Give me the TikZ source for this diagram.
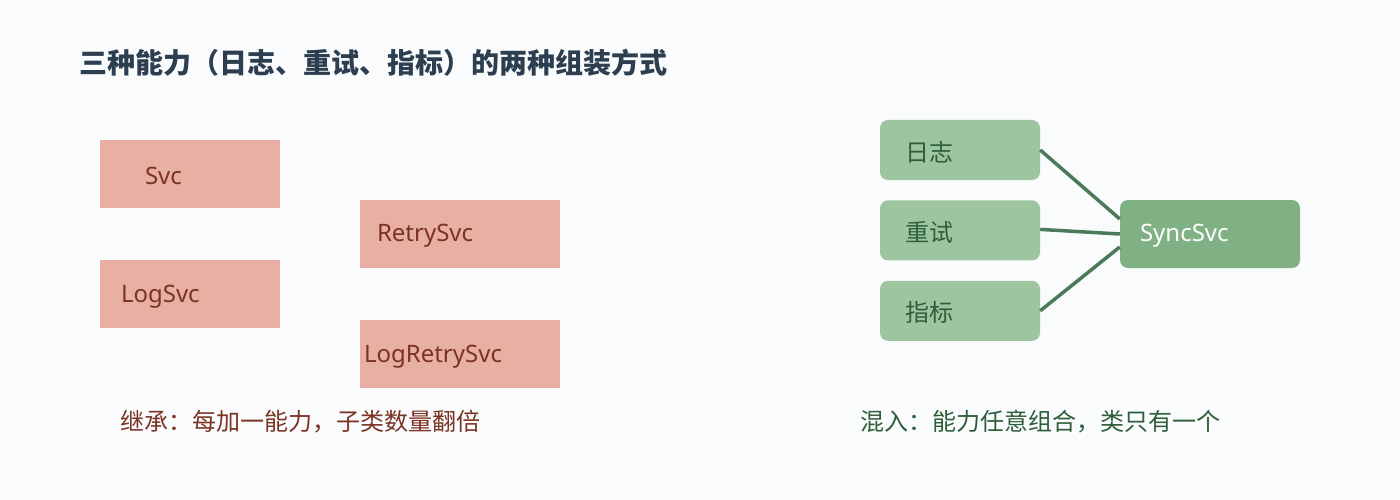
\documentclass[tikz,border=0pt]{standalone}
\usepackage{fontspec}
\setmainfont{Noto Sans}
\newfontfamily\cjk{Noto Sans CJK SC}
\usetikzlibrary{positioning}

\definecolor{bgcol}{HTML}{F9FBFD}
\definecolor{titlecol}{HTML}{2C3E50}
\definecolor{inhfill}{HTML}{E8B0A3}
\definecolor{inhtext}{HTML}{7B3323}
\definecolor{mixfill}{HTML}{9DC5A0}
\definecolor{mixdark}{HTML}{80B184}
\definecolor{mixtext}{HTML}{2E5E3A}
\definecolor{mixline}{HTML}{4A7A5A}

\begin{document}
\begin{tikzpicture}[x=1pt, y=-1pt, node distance=52pt,
  inh node/.style={rectangle, fill=inhfill, minimum height=68pt, inner sep=0pt},
  inh text/.style={font=\fontsize{24}{28}\selectfont, text=inhtext, inner sep=0pt, yshift=-2pt},
  mix node/.style={rectangle, rounded corners=8pt, fill=mixfill, minimum width=160pt, minimum height=60pt, inner sep=0pt},
  mix text/.style={font=\fontsize{24}{28}\selectfont\cjk, text=mixtext, inner sep=0pt, yshift=-2pt},
  caption/.style={font=\fontsize{24}{28}\selectfont\cjk, inner sep=0pt, anchor=west}]

\fill[bgcol] (0,0) rectangle (1400,500);
\useasboundingbox (0,0) rectangle (1400,500);

\node[font=\fontsize{28}{32}\selectfont\cjk\bfseries, text=titlecol, anchor=west, inner sep=0pt] (title) at (79,63) {三种能力（日志、重试、指标）的两种组装方式};

% inheritance
\node[inh node, minimum width=180pt] (svc) at (190,174) {};
\node[inh node, minimum width=180pt] (logsvc) [below=of svc] {};
\node[inh node, minimum width=200pt] (retrysvc) at (460,234) {};
\node[inh node, minimum width=200pt] (logretrysvc) [below=of retrysvc] {};

\node[inh text, right=45pt of svc.west] {Svc};
\node[inh text, right=21pt of logsvc.west] {LogSvc};
\node[inh text, right=17pt of retrysvc.west] {RetrySvc};
\node[inh text, right=4pt of logretrysvc.west] {LogRetrySvc};

\node[caption, text=inhtext] (inhcap) at (120,422) {继承：每加一能力，子类数量翻倍};

% mixin
\node[mix node] (log) at (960,150) {};
\node[mix node] (retry) [below=20pt of log] {};
\node[mix node] (metric) [below=20pt of retry] {};
\node[mix node, fill=mixdark, minimum width=180pt, minimum height=68pt] (sync) at (1210,234) {};

\node[mix text, right=25pt of log.west] {日志};
\node[mix text, right=25pt of retry.west] {重试};
\node[mix text, right=25pt of metric.west] {指标};
\node[inh text, text=white, right=20pt of sync.west] {SyncSvc};

\path[draw=mixline, line width=3.5pt]
    (log.east) edge ([yshift=15pt]sync.west)
    ([yshift=1pt]retry.east) edge ([yshift=0pt]sync.west)
    (metric.east) edge ([yshift=-13pt]sync.west);

\node[caption, text=mixtext] (mixcap) at (860,422) {混入：能力任意组合，类只有一个};

\end{tikzpicture}
\end{document}
